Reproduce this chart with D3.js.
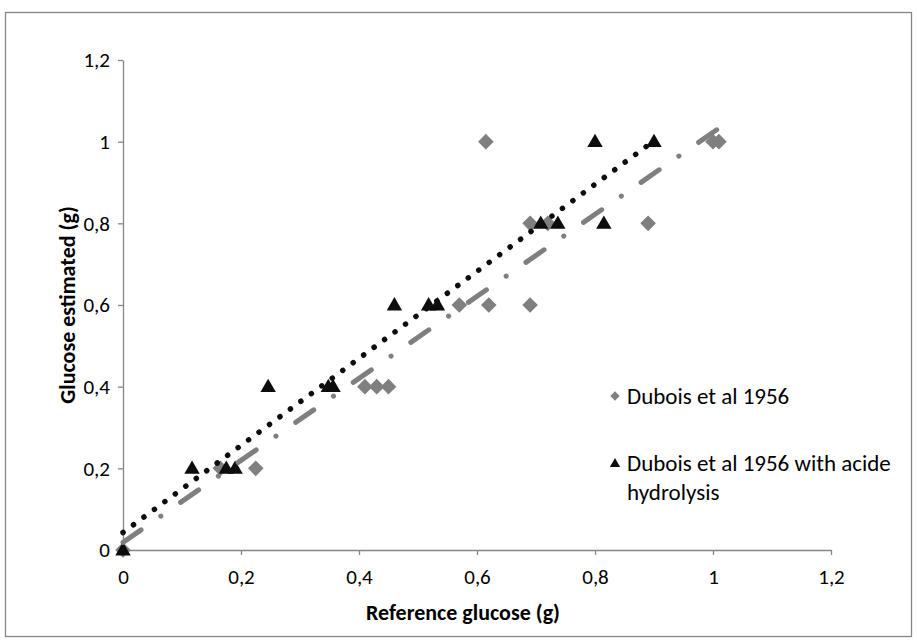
<!DOCTYPE html>
<html>
<head>
<meta charset="utf-8">
<script src="https://cdn.jsdelivr.net/npm/d3@7"></script>
<style>
  body { margin: 0; background: #fff; }
  svg text { font-family: Carlito, Calibri, Lato, "Open Sans", sans-serif; fill: #000; }
</style>
</head>
<body>
<div id="chart"></div>
<script>
// values
var duboisX = [0, 0.165, 0.225, 0.41, 0.43, 0.45, 0.57, 0.62, 0.69, 0.615, 0.69, 0.72, 0.89, 1.0, 1.01];
var duboisY = [0, 0.2, 0.2, 0.4, 0.4, 0.4, 0.6, 0.6, 0.6, 1.0, 0.8, 0.8, 0.8, 1.0, 1.0];
var hydroX = [0, 0.117, 0.175, 0.19, 0.246, 0.348, 0.356, 0.46, 0.518, 0.533, 0.708, 0.737, 0.815, 0.8, 0.9];
var hydroY = [0, 0.2, 0.2, 0.2, 0.4, 0.4, 0.4, 0.6, 0.6, 0.6, 0.8, 0.8, 0.8, 1.0, 1.0];
var tickVals = [0, 0.2, 0.4, 0.6, 0.8, 1, 1.2];
var legendLabels = ["Dubois et al 1956", ["Dubois et al 1956 with acide", "hydrolysis"]];
var xTitle = "Reference glucose (g)";
var yTitle = "Glucose estimated (g)";

var W = 917, H = 642;
var axisColor = "#868686";
var grey = "#7f7f7f";

var svg = d3.select("#chart").append("svg")
    .attr("width", W).attr("height", H);

// chart border
svg.append("rect")
    .attr("x", 5.5).attr("y", 12.5)
    .attr("width", 906).attr("height", 624)
    .attr("fill", "#fff").attr("stroke", axisColor).attr("stroke-width", 1.3);

var x = d3.scaleLinear().domain([0, 1.2]).range([123, 831]);
var y = d3.scaleLinear().domain([0, 1.2]).range([550, 60]);

function fmt(d) { return String(+d.toFixed(1)).replace(".", ","); }

var gx = svg.append("g").attr("transform", "translate(0,550)")
    .call(d3.axisBottom(x).tickValues(tickVals).tickFormat(fmt).tickSize(5).tickSizeOuter(0).tickPadding(14));
var gy = svg.append("g").attr("transform", "translate(123,0)")
    .call(d3.axisLeft(y).tickValues(tickVals).tickFormat(fmt).tickSize(5).tickSizeOuter(0).tickPadding(8));

[gx, gy].forEach(function(g) {
    g.select(".domain").attr("stroke", axisColor).attr("stroke-width", 1.3);
    g.selectAll(".tick line").attr("stroke", axisColor).attr("stroke-width", 1.3);
    g.selectAll(".tick text").style("font-size", "21px").attr("fill", "#000");
});

// axis titles
svg.append("text")
    .attr("x", 463).attr("y", 620)
    .attr("text-anchor", "middle")
    .style("font-size", "22px").style("font-weight", "bold")
    .text(xTitle);
svg.append("text")
    .attr("transform", "translate(75,305) rotate(-90)")
    .attr("text-anchor", "middle")
    .style("font-size", "22px").style("font-weight", "bold")
    .text(yTitle);

function pts(xs, ys) { return xs.map(function(v, i) { return { x: v, y: ys[i] }; }); }
var dubois = pts(duboisX, duboisY);
var hydro = pts(hydroX, hydroY);

// linear least squares trend, like the spreadsheet
function trend(data) {
    var mx = d3.mean(data, function(d) { return d.x; });
    var my = d3.mean(data, function(d) { return d.y; });
    var sxy = d3.sum(data, function(d) { return (d.x - mx) * (d.y - my); });
    var sxx = d3.sum(data, function(d) { return (d.x - mx) * (d.x - mx); });
    var b = sxy / sxx, a = my - b * mx;
    var ext = d3.extent(data, function(d) { return d.x; });
    return ext.map(function(v) { return { x: v, y: a + b * v }; });
}

var diamond = d3.symbol().type(d3.symbolDiamond2).size(155);
var triangle = d3.symbol().type(d3.symbolTriangle2).size(170);

svg.append("g").selectAll("path").data(dubois).enter().append("path")
    .attr("d", diamond)
    .attr("transform", function(d) { return "translate(" + x(d.x) + "," + y(d.y) + ")"; })
    .attr("fill", grey);

svg.append("g").selectAll("path").data(hydro).enter().append("path")
    .attr("d", triangle)
    .attr("transform", function(d) { return "translate(" + x(d.x) + "," + (y(d.y) + 1) + ")"; })
    .attr("fill", "#0d0d0d");

var line = d3.line().x(function(d) { return x(d.x); }).y(function(d) { return y(d.y); });

svg.append("path").datum(trend(dubois))
    .attr("d", line)
    .attr("fill", "none").attr("stroke", grey)
    .attr("stroke-width", 5).attr("stroke-linecap", "round")
    .attr("stroke-dasharray", "22,24,0.1,24");

svg.append("path").datum(trend(hydro))
    .attr("d", line)
    .attr("fill", "none").attr("stroke", "#0d0d0d")
    .attr("stroke-width", 5.5).attr("stroke-linecap", "round")
    .attr("stroke-dasharray", "0.1,12.9");

// legend
var lg = svg.append("g");
lg.append("path").attr("d", d3.symbol().type(d3.symbolDiamond2).size(55))
    .attr("transform", "translate(615,396)").attr("fill", grey);
lg.append("text").attr("x", 627).attr("y", 404).style("font-size", "23px").text(legendLabels[0]);
lg.append("path").attr("d", d3.symbol().type(d3.symbolTriangle2).size(75))
    .attr("transform", "translate(615,464)").attr("fill", "#0d0d0d");
lg.append("text").attr("x", 627).attr("y", 471).style("font-size", "23px")
    .selectAll("tspan").data(legendLabels[1]).enter().append("tspan")
    .attr("x", 627).attr("dy", function(d, i) { return i ? 29 : 0; })
    .text(function(d) { return d; });
</script>
</body>
</html>
